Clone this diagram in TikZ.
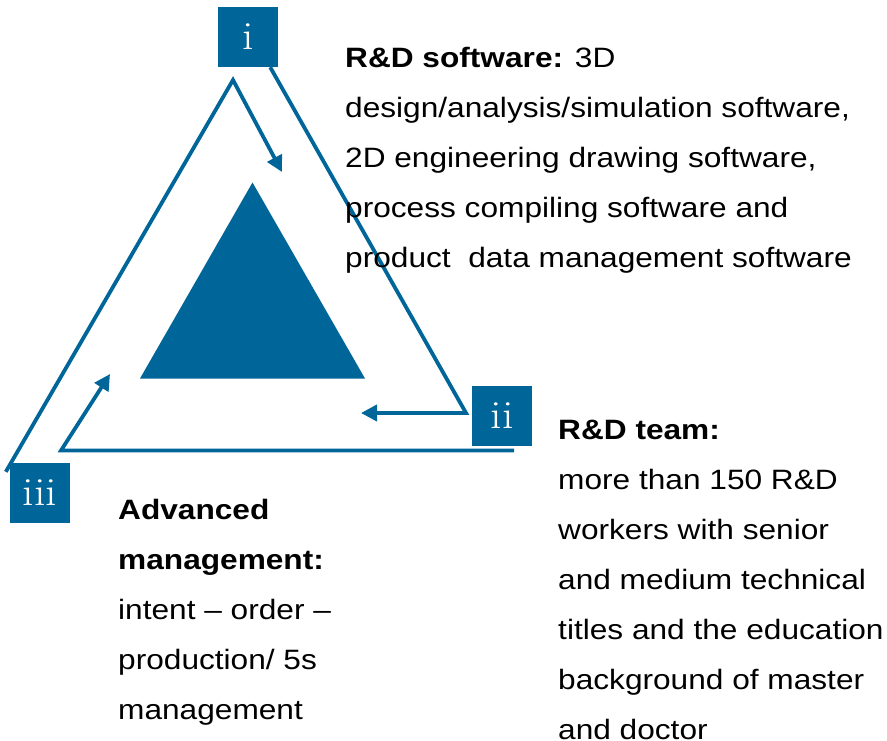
\documentclass[tikz,border=0pt]{standalone}
\usepackage{fontspec}
\setmainfont{Liberation Sans}[FakeStretch=1.13]
\newfontfamily\romfont{Latin Modern Roman}[FakeStretch=1.15]
\usepackage{xcolor}
\usetikzlibrary{arrows.meta}
\definecolor{c_blue}{RGB}{0,102,153}
\tikzset{numbox/.style={rectangle, minimum width=60pt, minimum height=60pt, inner sep=0pt, fill=c_blue, text=white, font=\romfont\fontsize{40}{40}\selectfont},
infotext/.style={anchor=north west, inner sep=0pt, align=left, font=\fontsize{28}{50}\selectfont},
flow/.style={draw=c_blue, line width=3.8pt, line join=miter},
arrow/.style={flow, -{Triangle[length=16pt,width=16pt]}}}

\begin{document}
\begin{tikzpicture}[x=1pt, y=-1pt]
\useasboundingbox (0,0) rectangle (887,741);
\fill [c_blue] (252.5,182.5) -- (365,378.5) -- (140,378.5) -- cycle;
\node (boxi) [numbox] at (248,37) {i};
\node (boxii) [numbox] at (502,416) {ii};
\node (boxiii) [numbox] at (40,493) {iii};
\coordinate (apexi) at (233,80);
\coordinate (tipi) at (282,172);
\coordinate (cornerii) at (466,413);
\coordinate (tipii) at (361,413);
\coordinate (startiii) at (514,450.5);
\coordinate (corneriii) at (61,450.5);
\coordinate (tipiii) at (110,374);
\draw [arrow] ([shift={(-4,9)}]boxiii.north west) -- (apexi) -- (tipi);
\draw [arrow] ([xshift=-8pt]boxi.south east) -- (cornerii) -- (tipii);
\draw [arrow] (startiii) -- (corneriii) -- (tipiii);
\node (tsoft) [infotext] at (345,47) {\textbf{R\&D software:} 3D\\
design/analysis/simulation software,\\
2D engineering drawing software,\\
process compiling software and\\
product\ \ data management software};
\node (tteam) [infotext] at (558,419.5) {\textbf{R\&D team:}\\
more than 150 R\&D\\
workers with senior\\
and medium technical\\
titles and the education\\
background of master\\
and doctor};
\node (tmgmt) [infotext] at (118,499) {\textbf{Advanced}\\
\textbf{management:}\\
intent -- order --\\
production/ 5s\\
management};
\end{tikzpicture}
\end{document}
